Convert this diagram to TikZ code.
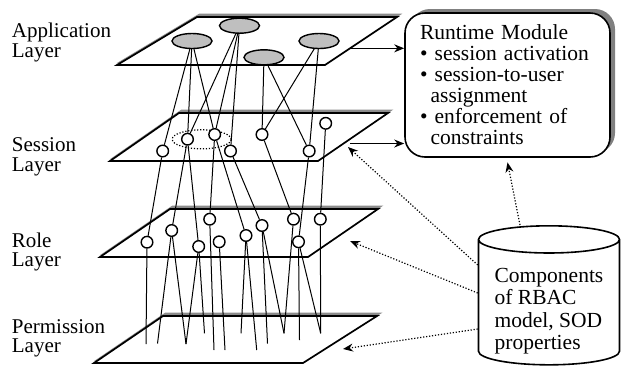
\documentclass[tikz,border=0pt]{standalone}
\usepackage{fontspec}
\setmainfont{Liberation Serif}
\usetikzlibrary{arrows.meta,shapes.geometric}

\begin{document}
\begin{tikzpicture}[x=0.5pt,y=-0.5pt,
    plane/.style={
      draw,
      line width=0.85pt,
      fill=white,
      preaction={draw=black!45,fill=black!45,line width=0.85pt,
        transform canvas={xshift=1.3pt,yshift=1.3pt}}},
    lay/.style={
      anchor=north west,
      inner sep=0pt,
      align=left,
      font=\fontsize{10.5pt}{9.6pt}\selectfont},
    app/.style={
      ellipse,
      draw,
      line width=0.7pt,
      fill=black!25,
      inner sep=0pt,
      minimum width=20pt,
    minimum height=7.5pt},
    obj/.style={
      circle,
      draw,
      line width=0.7pt,
      fill=white,
      inner sep=0pt,
    minimum size=5.8pt},
    link/.style={line width=0.5pt},
    feed/.style={line width=0.6pt,-{Stealth[length=5pt,width=4pt]}},
    hint/.style={
      line width=0.6pt,
      dash pattern=on 0.6pt off 0.9pt,
    -{Stealth[length=5pt,width=4pt]}}]
    \useasboundingbox (0,0) rectangle (621,372);

    \draw [plane] (94,363)  -- (303,363) -- (377,316) -- (163,316) -- cycle;
    \draw [plane] (100,257) -- (308,257) -- (378,209) -- (170,209) -- cycle;
    \draw [plane] (110,161) -- (318,161) -- (388,113) -- (179,113) -- cycle;
    \draw [plane] (117,65)  -- (325,65)  -- (397,17)  -- (197,17)  -- cycle;

    \node [lay] (la) at (11.5,23)    {Application\\Layer};
    \node [lay] (ls) at (11.5,137.5) {Session\\Layer};
    \node [lay] (lr) at (11.5,232.5) {Role\\Layer};
    \node [lay] (lp) at (11.5,319)   {Permission\\Layer};

    \draw [line width=0.6pt,dash pattern=on 0.6pt off 0.9pt]
      (201.7,139.3) ellipse [x radius=14.75pt,y radius=4.75pt];

    \coordinate (p1)  at (146,344);
    \coordinate (p2)  at (157.5,343.5);
    \coordinate (p3)  at (186,344);
    \coordinate (p4)  at (204.5,333.3);
    \coordinate (p5)  at (214,350);
    \coordinate (p6)  at (225,350);
    \coordinate (p7)  at (241,333.3);
    \coordinate (p8)  at (256.7,350);
    \coordinate (p9)  at (267.5,343.5);
    \coordinate (p10) at (284,333.3);
    \coordinate (p11) at (299.5,340);
    \coordinate (p12) at (320.7,333.3);

    \node [app] (a1) at (192,41)     {};
    \node [app] (a2) at (239.5,25.7) {};
    \node [app] (a3) at (264,57.3)   {};
    \node [app] (a4) at (319,41)     {};

    \node [obj] (s1) at (162.7,151)   {};
    \node [obj] (s2) at (187.5,139.2) {};
    \node [obj] (s3) at (214.7,134.5) {};
    \node [obj] (s4) at (230.5,151)   {};
    \node [obj] (s5) at (262,134.5)   {};
    \node [obj] (s6) at (309.2,151)   {};
    \node [obj] (s7) at (325.7,123.3) {};

    \node [obj] (r1)  at (147,242.2)   {};
    \node [obj] (r2)  at (171.7,230.5) {};
    \node [obj] (r3)  at (198.7,246.5) {};
    \node [obj] (r4)  at (209.7,219.2) {};
    \node [obj] (r5)  at (219.2,241.8) {};
    \node [obj] (r6)  at (246,235.5)   {};
    \node [obj] (r7)  at (262,225.5)   {};
    \node [obj] (r8)  at (293.5,219.2) {};
    \node [obj] (r9)  at (298.5,241.8) {};
    \node [obj] (r10) at (320.3,219.2) {};

    \foreach \u/\v in {a1/s1,a1/s2,a1/s3,a2/s2,a2/s3,a2/s4,a3/s5,a3/s6,a4/s5,a4/s6,
                       s1/r1,s2/r2,s2/r3,s3/r4,s3/r6,s4/r7,s5/r8,s6/r9,s7/r10,
                       r1/p1,r2/p2,r2/p3,r3/p3,r3/p4,r4/p5,r5/p6,r6/p7,r6/p8,
                       r7/p9,r7/p10,r8/p10,r9/p11,r9/p12,r10/p12}
      \draw [link] (\u) -- (\v);

    \node [draw,line width=0.8pt,rounded corners=10pt,fill=white,
      preaction={fill=black!50,transform canvas={xshift=2.5pt,yshift=2pt}},
      minimum width=102.5pt,minimum height=72pt,inner xsep=7.5pt,
      text width=87.5pt,align=left,
      font=\fontsize{10.75pt}{10.5pt}\selectfont] (rt) at (507.5,85)
      {Runtime Module\\
       \textbullet\ session activation\\
       \textbullet\ session-to-user\\
       \hspace*{5.3pt}assignment\\
       \textbullet\ enforcement of\\
       \hspace*{5.3pt}constraints};

    \node [cylinder,shape border rotate=90,draw,line width=0.8pt,aspect=0.25,
      minimum width=70.5pt,minimum height=69.5pt,inner sep=0pt,
      font=\fontsize{10.75pt}{11.2pt}\selectfont] (db) at (549,302.5)
      {\raisebox{-7.2pt}[0pt][0pt]{\begin{tabular}{@{}l@{}}
        Components\\of RBAC\\model, SOD\\properties
      \end{tabular}}};

    \coordinate (ea) at (351,48.3);
    \coordinate (es) at (350,143.5);
    \coordinate (ts) at (348,147);
    \coordinate (tr) at (350,241);
    \coordinate (tp) at (343,349);

    \draw [feed] (ea) -- (ea -| rt.west);
    \draw [feed] (es) -- (es -| rt.west);

    \draw [hint] ([yshift=18.75pt]db.west)  -- (ts);
    \draw [hint] ([yshift=4.75pt]db.west)   -- (tr);
    \draw [hint] ([yshift=-13.25pt]db.west) -- (tp);
    \draw [hint] ([xshift=-14.5pt]db.north) -- ([yshift=-2.3pt]rt.south);
  \end{tikzpicture}
\end{document}
